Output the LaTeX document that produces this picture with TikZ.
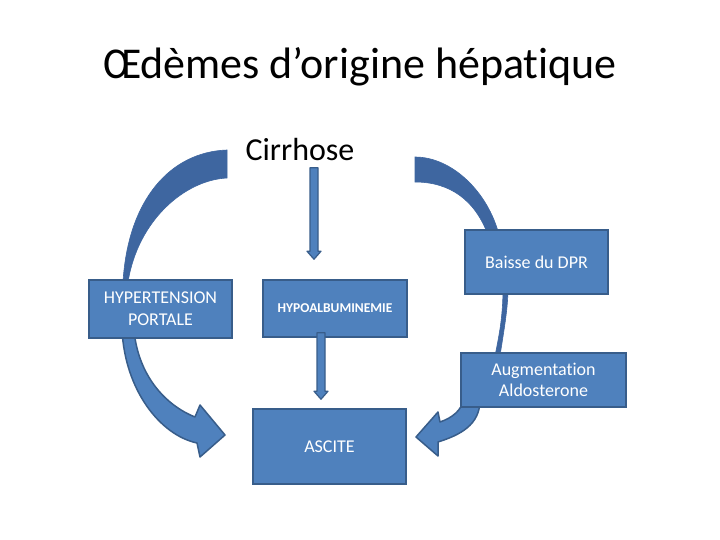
\documentclass[tikz,border=0pt]{standalone}
\usepackage{fontspec}
\setmainfont{Carlito}[Ligatures=NoCommon]
\usetikzlibrary{calc}
\definecolor{boxblue}{HTML}{4F81BD}
\definecolor{boxline}{HTML}{385D8A}
\definecolor{backblue}{HTML}{3E66A0}
\newcommand{\downblock}[2]{%
  \path[blockarr] let \p1=#1, \p2=#2 in
    (\x1-4pt,\y1) -- (\x1+4pt,\y1) -- (\x1+4pt,\y2+8pt) -- (\x1+7pt,\y2+8pt)
    -- (\x1,\y2) -- (\x1-7pt,\y2+8pt) -- (\x1-4pt,\y2+8pt) -- cycle;}
\begin{document}
\begin{tikzpicture}[x=1pt,y=-1pt,
  box/.style={draw=boxline,fill=boxblue,line width=1.5pt,text=white,
    font=\fontsize{18}{21.6}\selectfont,align=center,inner sep=0pt},
  blockarr/.style={draw=boxline,fill=boxblue,line width=1.2pt,line join=round},
  backarr/.style={draw=backblue,fill=backblue,line width=0.6pt},
  frontarr/.style={draw=boxline,fill=boxblue,line width=1.5pt,line join=round}]
  \useasboundingbox (0,0) rectangle (720,540);
  \fill[white] (0,0) rectangle (720,540);
  \node (title) at (360,67) {\fontsize{44}{52}\selectfont Œdèmes d’origine hépatique};
  \node (cir) at (300,150) {\fontsize{32}{38}\selectfont Cirrhose};
  \path[backarr] (227,150) .. controls (170,152) and (128,200) .. (123,282)
    -- (128,282) .. controls (138,220) and (185,180) .. (227,178) -- cycle;
  \path[frontarr] (122,330) .. controls (125,390) and (160,435) .. (197,443)
    -- (200,457) -- (225,435) -- (200,405) -- (195,417)
    .. controls (165,405) and (138,375) .. (134,330) -- cycle;
  \path[backarr] (415,157) .. controls (452,157) and (488,192) .. (499,235)
    -- (488,235) .. controls (475,200) and (450,182) .. (415,182) -- cycle;
  \path[backarr] (503,288) .. controls (503,320) and (498,340) .. (495,356)
    -- (500,356) .. controls (503,335) and (508,310) .. (508,288) -- cycle;
  \path[frontarr] (480,400) .. controls (480,425) and (460,435) .. (438,442)
    -- (438,456) -- (416,437) -- (438,412) -- (440,422)
    .. controls (452,418) and (462,410) .. (463,400) -- cycle;
  \node[box,minimum width=143pt,minimum height=58pt] (hyper) at (160.5,309)
    {HYPERTENSION\\PORTALE};
  \node[box,minimum width=144pt,minimum height=57pt,font=\fontsize{13.5}{16}\selectfont\bfseries]
    (hypo) at (335,308.5) {HYPOALBUMINEMIE};
  \node[box,minimum width=153pt,minimum height=75pt] (ascite) at (329.5,446.5) {ASCITE};
  \node[box,minimum width=143pt,minimum height=64pt] (dpr) at (536.5,262) {Baisse du DPR};
  \node[box,minimum width=165pt,minimum height=54pt] (aldo) at (543.5,380)
    {Augmentation\\Aldosterone};
  \downblock{($(cir.south)+(14,3)$)}{($(hypo.north)+(-21,-20)$)}
  \downblock{($(hypo.south)+(-14,-5)$)}{($(ascite.north)+(-9,-9)$)}
\end{tikzpicture}
\end{document}
